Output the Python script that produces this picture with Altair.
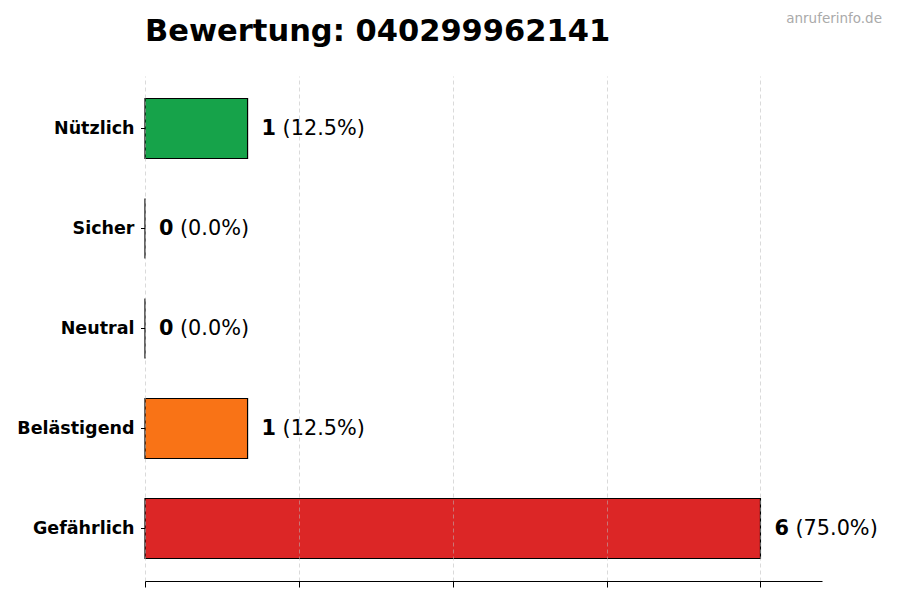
import altair as alt
import pandas as pd

categories = ["Nützlich", "Sicher", "Neutral", "Belästigend", "Gefährlich"]
counts = [1, 0, 0, 1, 6]
colors = ["#16a34a", "#22c55e", "#9ca3af", "#f97316", "#dc2626"]
title_text = "Bewertung: 040299962141"
watermark = "anruferinfo.de"
x_ticks = [0, 1.5, 3, 4.5, 6]

total = sum(counts)
df = pd.DataFrame({
    "cat": categories,
    "count": counts,
    "pct": [f"({c / total * 100:.1f}%)" for c in counts],
})

FONT = "DejaVu Sans"

y_enc = alt.Y("cat:N", sort=categories,
              scale=alt.Scale(paddingInner=0.4, paddingOuter=0.225),
              axis=alt.Axis(title=None, domain=False, grid=False, ticks=True,
                            tickSize=4.5, tickColor="black", labelPadding=6.5,
                            labelFont=FONT, labelFontSize=17.5,
                            labelFontWeight="bold", labelColor="black"))
x_scale = alt.Scale(domain=[0, max(counts) * 1.1], nice=False, zero=True)

base = alt.Chart(df)

bars = base.mark_bar(stroke="black", strokeWidth=1.2).encode(
    x=alt.X("count:Q", scale=x_scale,
            axis=alt.Axis(title=None, values=x_ticks, labels=False,
                          domain=True, domainColor="black", domainWidth=1.2,
                          ticks=True, tickSize=6, tickColor="black",
                          grid=True, gridColor="#bbbbbb", gridOpacity=0.6,
                          gridDash=[4, 3], gridWidth=0.9, zindex=1)),
    y=y_enc,
    color=alt.Color("cat:N", scale=alt.Scale(domain=categories, range=colors),
                    legend=None),
)

num_text = base.mark_text(align="left", baseline="middle", dx=14,
                          font=FONT, fontSize=20.8, fontWeight="bold",
                          color="black").encode(
    x=alt.X("count:Q", scale=x_scale),
    y=alt.Y("cat:N", sort=categories),
    text="count:Q",
)

pct_text = base.mark_text(align="left", baseline="middle", dx=35,
                          font=FONT, fontSize=20.8, color="black").encode(
    x=alt.X("count:Q", scale=x_scale),
    y=alt.Y("cat:N", sort=categories),
    text="pct:N",
)

title_mark = alt.Chart(pd.DataFrame({"t": [title_text]})).mark_text(
    align="left", baseline="alphabetic", font=FONT, fontSize=30.5,
    fontWeight="bold", color="black").encode(
    text="t:N", x=alt.value(0), y=alt.value(-35))

wm = alt.Chart(pd.DataFrame({"t": [watermark]})).mark_text(
    align="right", baseline="middle", font=FONT, fontSize=13.5,
    color="#aaaaaa").encode(
    text="t:N", x=alt.value(737), y=alt.value(-57))

chart = alt.layer(bars, num_text, pct_text, title_mark, wm).properties(
    width=677, height=505,
    autosize=alt.AutoSizeParams(type="none"),
    padding={"left": 137, "top": 68, "right": 70, "bottom": 11},
).configure(background="white", view=alt.ViewConfig(stroke=None))

chart.save("out.html", embed_options={"renderer": "svg", "actions": False})
